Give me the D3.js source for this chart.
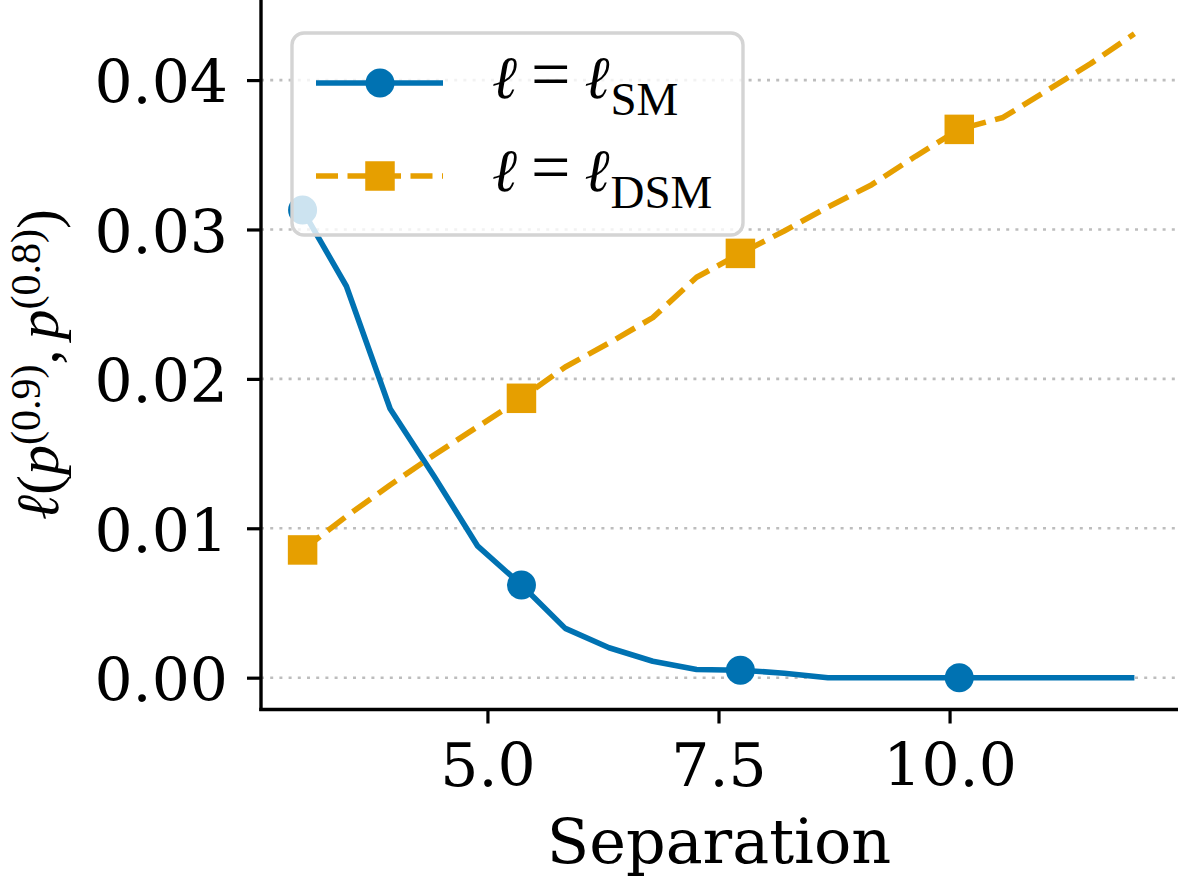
<!DOCTYPE html>
<html>
<head>
<meta charset="utf-8">
<script src="https://cdn.jsdelivr.net/npm/d3@7"></script>
<style>
  html, body { margin: 0; padding: 0; background: #ffffff; }
  svg { display: block; }
</style>
</head>
<body>
<svg id="chart" width="1178" height="877"></svg>
<script>
// ---- data ----
const separation = [3.0, 3.474, 3.947, 4.421, 4.895, 5.368, 5.842, 6.316, 6.789, 7.263,
                    7.737, 8.211, 8.684, 9.158, 9.632, 10.105, 10.579, 11.053, 11.526, 12.0];
const lossSM  = [0.0313, 0.0262, 0.0180, 0.0135, 0.0088, 0.0062, 0.0033, 0.0020, 0.0011, 0.00055,
                 0.0005, 0.0003, 0.0, 0.0, 0.0, 0.0, 0.0, 0.0, 0.0, 0.0];
const lossDSM = [0.00855, 0.0108, 0.0129, 0.0149, 0.0168, 0.0187, 0.0208, 0.0224, 0.0241, 0.0268,
                 0.0284, 0.0299, 0.0315, 0.0330, 0.0349, 0.0367, 0.0375, 0.0393, 0.0411, 0.0431];
const xTicks = [5.0, 7.5, 10.0];
const yTicks = [0.00, 0.01, 0.02, 0.03, 0.04];
const markEvery = 5;

(function () {
const blue = "#0072B2", orange = "#E69F00";
const serif = "'DejaVu Serif', serif";
const mathRoman = "'Liberation Serif', 'DejaVu Serif', serif";

const svg = d3.select("#chart");
const pLeft = 261, pRight = 1176, pTop = 0, pBottom = 709.5;

const x = d3.scaleLinear().domain([2.55, 12.45]).range([pLeft, pRight]);
const y = d3.scaleLinear().domain([-0.00213, 0.04536]).range([pBottom, pTop]);

// grid
svg.append("g").selectAll("line").data(yTicks).join("line")
  .attr("x1", pLeft).attr("x2", 1178)
  .attr("y1", d => y(d)).attr("y2", d => y(d))
  .attr("stroke", "#bdbdbd").attr("stroke-width", 2.6)
  .attr("stroke-dasharray", "3,6.2");

// axes
const yAxis = svg.append("g").attr("transform", `translate(${pLeft},0)`)
  .call(d3.axisLeft(y).tickValues(yTicks).tickFormat(d3.format(".2f")).tickSize(14).tickPadding(19));
const xAxis = svg.append("g").attr("transform", `translate(0,${pBottom})`)
  .call(d3.axisBottom(x).tickValues(xTicks).tickFormat(d3.format(".1f")).tickSize(14).tickPadding(20));
[yAxis, xAxis].forEach(g => {
  g.select(".domain").remove();
  g.selectAll(".tick line").attr("stroke", "#000").attr("stroke-width", 3.2);
  g.selectAll(".tick text").attr("fill", "#000").style("font-family", serif).style("font-size", "60px");
});
yAxis.selectAll(".tick text").attr("dy", "0.38em");
// spines
svg.append("line").attr("x1", pLeft).attr("x2", pLeft).attr("y1", 0).attr("y2", pBottom + 1.6)
  .attr("stroke", "#000").attr("stroke-width", 3.4);
svg.append("line").attr("x1", pLeft - 1.7).attr("x2", 1178).attr("y1", pBottom).attr("y2", pBottom)
  .attr("stroke", "#000").attr("stroke-width", 3.4);

// series
const smPts = separation.map((s, i) => [s, lossSM[i]]);
const dsmPts = separation.map((s, i) => [s, lossDSM[i]]);
const line = d3.line().x(d => x(d[0])).y(d => y(d[1]));

svg.append("path").attr("d", line(smPts)).attr("fill", "none")
  .attr("stroke", blue).attr("stroke-width", 5.6).attr("stroke-linejoin", "round").attr("stroke-linecap", "butt");
svg.append("path").attr("d", line(dsmPts)).attr("fill", "none")
  .attr("stroke", orange).attr("stroke-width", 5.6).attr("stroke-linejoin", "round")
  .attr("stroke-dasharray", "22,9.5");

svg.append("g").selectAll("circle").data(smPts.filter((d, i) => i % markEvery === 0)).join("circle")
  .attr("cx", d => x(d[0])).attr("cy", d => y(d[1])).attr("r", 14.5).attr("fill", blue);
const sq = 29.5;
svg.append("g").selectAll("rect").data(dsmPts.filter((d, i) => i % markEvery === 0)).join("rect")
  .attr("x", d => x(d[0]) - sq / 2).attr("y", d => y(d[1]) - sq / 2)
  .attr("width", sq).attr("height", sq).attr("fill", orange);

// legend
const lg = svg.append("g");
lg.append("rect").attr("x", 292).attr("y", 33).attr("width", 451).attr("height", 202)
  .attr("rx", 12).attr("ry", 12)
  .attr("fill", "#ffffff").attr("fill-opacity", 0.8)
  .attr("stroke", "#d4d4d4").attr("stroke-width", 3.4);

const legendItems = [
  { sub: "SM",  color: blue,   dashed: false, yc: 83 },
  { sub: "DSM", color: orange, dashed: true,  yc: 176 }
];
legendItems.forEach(it => {
  const l = lg.append("line").attr("x1", 316).attr("x2", 443).attr("y1", it.yc).attr("y2", it.yc)
    .attr("stroke", it.color).attr("stroke-width", 5.6);
  if (it.dashed) {
    l.attr("stroke-dasharray", "22,9.5");
    lg.append("rect").attr("x", 380 - sq / 2).attr("y", it.yc - sq / 2).attr("width", sq).attr("height", sq).attr("fill", it.color);
  } else {
    lg.append("circle").attr("cx", 380).attr("cy", it.yc).attr("r", 14.5).attr("fill", it.color);
  }
  const t = lg.append("text").attr("x", 492).attr("y", it.yc + 15).attr("fill", "#000")
    .style("font-size", "60px");
  t.append("tspan").text("ℓ").style("font-family", serif).style("font-style", "italic");
  t.append("tspan").text("=").attr("dx", 14).style("font-family", mathRoman).style("font-size", "70px");
  t.append("tspan").text("ℓ").attr("dx", 14).style("font-family", serif).style("font-style", "italic");
  t.append("tspan").text(it.sub).attr("dy", 17).attr("dx", 1).style("font-family", mathRoman).style("font-size", "47px");
});

// x label
svg.append("text").attr("x", 719).attr("y", 863).attr("text-anchor", "middle")
  .style("font-family", serif).style("font-size", "62px").attr("fill", "#000").text("Separation");

// y label (math)
const yl = svg.append("text").attr("transform", "translate(58,520) rotate(-90)")
  .attr("fill", "#000").style("font-size", "60px").style("font-family", mathRoman);
yl.append("tspan").text("ℓ").style("font-family", serif).style("font-style", "italic");
yl.append("tspan").text("(");
yl.append("tspan").text("p").style("font-style", "italic");
yl.append("tspan").text("(0.9)").attr("dy", -18).style("font-size", "42px");
yl.append("tspan").text(",").attr("dy", 18);
yl.append("tspan").text("p").attr("dx", 10).style("font-style", "italic");
yl.append("tspan").text("(0.8)").attr("dy", -18).style("font-size", "42px");
yl.append("tspan").text(")").attr("dy", 18);
})();
</script>
</body>
</html>
